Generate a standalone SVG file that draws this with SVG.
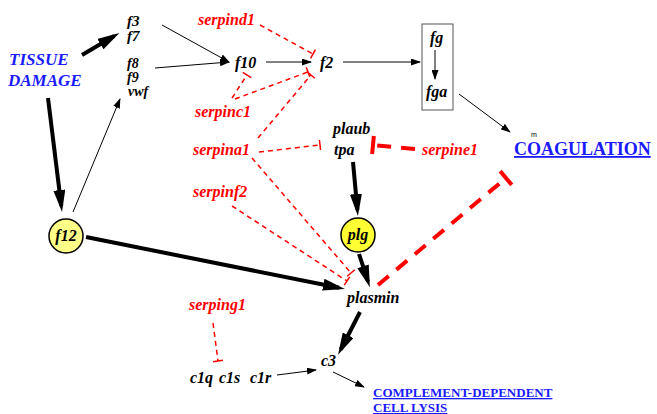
<svg xmlns="http://www.w3.org/2000/svg" width="657" height="414" viewBox="0 0 657 414">
<defs>
<style>
.lb{font-family:"Liberation Serif","Times New Roman",serif;font-weight:bold;font-style:italic;font-size:16px;fill:#000}
.sm{font-size:15px}
.xs{font-size:14px}
.rd{fill:#ff0000}
.bl{fill:#1a1aff;font-size:17px}
.up{font-family:"Liberation Serif","Times New Roman",serif;font-weight:bold;fill:#1a1aff;text-decoration:underline}
.thin{stroke:#000;stroke-width:1;fill:none;marker-end:url(#ah)}
.thick{stroke:#000;stroke-width:4;fill:none;marker-end:url(#AH)}
.inh{stroke:#ff0000;stroke-width:1.5;stroke-dasharray:5 4;fill:none;marker-end:url(#tb)}
.INH{stroke:#ff0000;stroke-width:4;stroke-dasharray:14 10;fill:none;marker-end:url(#TB)}
.node{stroke:#000;stroke-width:1.5}
</style>
<marker id="ah" markerUnits="userSpaceOnUse" viewBox="0 0 10 7" markerWidth="10" markerHeight="7" refX="9" refY="3.5" orient="auto"><path d="M0,0L10,3.5L0,7z" fill="#000"/></marker>
<marker id="AH" markerUnits="userSpaceOnUse" viewBox="0 0 22 12" markerWidth="22" markerHeight="12" refX="16" refY="6" orient="auto"><path d="M0,0L22,6L0,12z" fill="#000"/></marker>
<marker id="tb" markerUnits="userSpaceOnUse" viewBox="-2 -6 4 12" markerWidth="4" markerHeight="12" refX="0" refY="0" orient="auto"><path d="M0,-5V5" stroke="#ff0000" stroke-width="1.5"/></marker>
<marker id="TB" markerUnits="userSpaceOnUse" viewBox="-3 -10 6 20" markerWidth="6" markerHeight="20" refX="0" refY="0" orient="auto"><path d="M0,-9V9" stroke="#ff0000" stroke-width="4"/></marker>
</defs>
<rect width="657" height="414" fill="#fff"/>
<g id="connectors">
<line class="thick" x1="82" y1="55" x2="114.2" y2="36"/>
<line class="thick" x1="48" y1="98" x2="61.3" y2="206"/>
<line class="thick" x1="86" y1="237" x2="339" y2="287.8"/>
<line class="thick" x1="353" y1="162" x2="357.4" y2="210"/>
<line class="thick" x1="359" y1="254" x2="368" y2="281.5"/>
<line class="thick" x1="360" y1="312" x2="340.8" y2="349.5"/>
<line class="thin" x1="162" y1="25" x2="229" y2="62"/>
<line class="thin" x1="155" y1="68" x2="229" y2="62"/>
<line class="thin" x1="73" y1="212" x2="120" y2="99"/>
<line class="thin" x1="266" y1="62" x2="311" y2="62"/>
<line class="thin" x1="343" y1="62" x2="420" y2="62"/>
<line class="thin" x1="435" y1="50" x2="435" y2="79"/>
<line class="thin" x1="459" y1="94" x2="510" y2="132"/>
<line class="thin" x1="277" y1="375" x2="316" y2="370"/>
<line class="thin" x1="333" y1="372" x2="364" y2="387"/>
<line class="inh" x1="260" y1="25" x2="313" y2="54"/>
<line class="inh" x1="232" y1="98" x2="247" y2="75"/>
<line class="inh" x1="235" y1="99" x2="308" y2="72"/>
<line class="inh" x1="258" y1="138" x2="311" y2="75"/>
<line class="inh" x1="259" y1="152" x2="320" y2="145"/>
<line class="inh" x1="252" y1="158" x2="351" y2="273"/>
<line class="inh" x1="232" y1="206" x2="347" y2="281"/>
<line class="inh" x1="213" y1="323" x2="218" y2="361"/>
<line class="INH" x1="415" y1="149" x2="373" y2="145"/>
<line class="INH" x1="378" y1="285" x2="506" y2="178"/>
</g>
<g id="tissue_damage"><text class="lb bl" x="9" y="65">TISSUE</text><text class="lb bl" x="8" y="86">DAMAGE</text></g>
<g id="f3f7"><text class="lb sm" x="127" y="26">f3</text><text class="lb sm" x="127" y="41">f7</text></g>
<g id="f8f9vwf"><text class="lb xs" x="127" y="68">f8</text><text class="lb xs" x="127" y="82">f9</text><text class="lb xs" x="128" y="96">vwf</text></g>
<g id="f10"><text class="lb" x="235" y="68">f10</text></g>
<g id="f2"><text class="lb" x="320" y="68">f2</text></g>
<g id="fgbox"><rect x="422" y="24" width="31" height="86" fill="none" stroke="#555" stroke-width="1"/><text class="lb" x="430" y="43">fg</text><text class="lb" x="426" y="97">fga</text></g>
<g id="coagulation"><text x="531" y="137" font-family="Liberation Sans,Arial,sans-serif" font-size="7" fill="#000">m</text><text class="up" x="514" y="155" font-size="18">COAGULATION</text></g>
<g id="serpind1"><text class="lb rd" x="198" y="25">serpind1</text></g>
<g id="serpinc1"><text class="lb rd" x="195" y="117">serpinc1</text></g>
<g id="serpina1"><text class="lb rd" x="193" y="155">serpina1</text></g>
<g id="serpinf2"><text class="lb rd" x="193" y="197">serpinf2</text></g>
<g id="serpine1"><text class="lb rd" x="422" y="155">serpine1</text></g>
<g id="serping1"><text class="lb rd" x="189" y="310">serping1</text></g>
<g id="plaub_tpa"><text class="lb" x="333" y="134">plaub</text><text class="lb" x="334" y="155">tpa</text></g>
<g id="f12"><circle class="node" cx="66" cy="236" r="17" fill="#ffff88"/><text class="lb" x="66" y="241" text-anchor="middle">f12</text></g>
<g id="plg"><circle class="node" cx="358" cy="235" r="17" fill="#ffff33"/><text class="lb" x="358" y="240" text-anchor="middle">plg</text></g>
<g id="plasmin"><text class="lb" x="347" y="303">plasmin</text></g>
<g id="c3"><text class="lb" x="321" y="366">c3</text></g>
<g id="c1"><text class="lb" x="190" y="383">c1q</text><text class="lb" x="219" y="383">c1s</text><text class="lb" x="250" y="383">c1r</text></g>
<g id="complement"><text class="up" x="373" y="397" font-size="13">COMPLEMENT-DEPENDENT</text><text class="up" x="373" y="412" font-size="13">CELL LYSIS</text></g>
</svg>
